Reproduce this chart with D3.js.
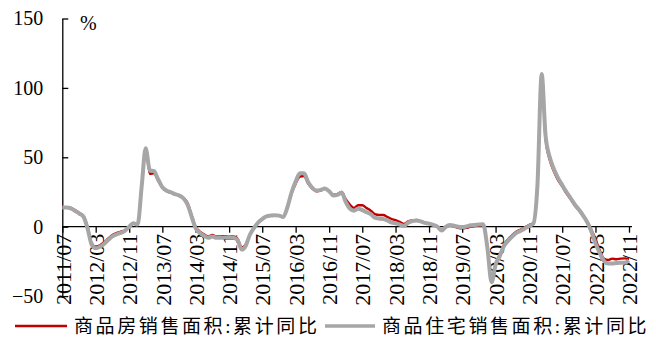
<!DOCTYPE html>
<html>
<head>
<meta charset="utf-8">
<script src="https://cdn.jsdelivr.net/npm/d3@7"></script>
<style>
  html, body { margin: 0; padding: 0; background: #fff; }
  svg { display: block; }
  .axis text { font-family: "Liberation Serif", "Times New Roman", serif; font-size: 20px; fill: #000; }
  .axis path, .axis line { stroke: #000; stroke-width: 1.3px; }
  .xaxis text { font-size: 22px; }
  .legend text { font-family: "Liberation Serif", "Noto Sans CJK SC", serif; font-size: 19px; fill: #000; }
</style>
</head>
<body>
<svg id="chart" width="656" height="339"></svg>
<script>
// Monthly series, starting 2011/07 and ending 2022/11 (cumulative YoY, %)
const startMonth = "2011/07";

const seriesNames = ["商品房销售面积:累计同比", "商品住宅销售面积:累计同比"];
const seriesColors = ["#c00000", "#a6a6a6"];

const salesAreaAll = [
  // 2011 Jul-Dec
  14, 14, 13.5, 12, 10, 8,
  // 2012
  0, -12, -14.5, -13.5, -11.5, -8.5, -6, -4.5, -3.5, -2.5, 0, 2.5,
  // 2013
  1.5, 30, 56, 38, 38.5, 33, 28, 25.5, 24.5, 23.5, 22.5, 21,
  // 2014
  17, 8, 0, -3.5, -5.5, -7, -6, -7, -7, -6.8, -7.2, -7,
  // 2015
  -8.5, -15, -13, -6, -1, 3, 5.5, 7.5, 8, 8.3, 8, 7,
  // 2016
  14, 24, 31, 36, 36.5, 31, 27.5, 25.5, 26, 27.5, 25.5, 23,
  // 2017
  23.5, 25, 20, 16, 13.5, 15.5, 15.5, 13.5, 11.5, 9, 8.4, 8.4,
  // 2018
  7, 5.5, 4.8, 3.5, 2, 3.8, 4.5, 4.8, 4, 3, 2.2, 1.3,
  // 2019
  0, -2.4, -0.5, 0.8, 0.3, -0.8, -1.2, -0.8, 0, 0.5, 1, 1.3,
  // 2020
  -15, -40, -27, -20, -13, -9, -6, -3.5, -2, -0.5, 1.2, 2.5,
  // 2021
  30, 110, 64, 48, 40, 33.5, 29, 24, 19.7, 15.3, 11.7, 7.7,
  // 2022 Jan-Nov
  3.4, -2.5, -9, -17, -23, -24, -23, -23.5, -23, -22.8, -23.3
];

const salesAreaResidential = [
  // 2011 Jul-Dec
  13.8, 13.8, 13.2, 11.5, 9.5, 7.5,
  // 2012
  -1, -13, -15.5, -14.5, -12.5, -9.5, -7, -5.5, -4.5, -3, 0, 2.5,
  // 2013
  1.5, 30, 56.5, 40.5, 40, 34, 28.5, 26, 24.8, 23.5, 22.5, 20.5,
  // 2014
  16, 7, -1, -4.5, -6.5, -8, -7, -8, -8, -7.8, -8, -8,
  // 2015
  -9.5, -16.5, -14, -6, -1, 3, 5.5, 7.5, 8, 8.3, 8, 7,
  // 2016
  14, 25, 32.5, 38.5, 38.5, 32, 28, 26, 26.5, 27.5, 25.5, 22.5,
  // 2017
  23, 24.5, 18, 13, 11.5, 13, 12, 10.5, 9, 6.5, 5.8, 5.6,
  // 2018
  4.5, 3, 2.5, 1.5, 0.5, 2.8, 4, 4.5, 3.8, 2.8, 2.2, 1.3,
  // 2019
  0, -2.8, -0.3, 1.2, 0.8, 0, -0.2, 0.2, 1, 1.3, 1.5, 1.8,
  // 2020
  -15, -40, -27.5, -21, -14, -10, -7, -4.5, -3, -1.2, 0.5, 2,
  // 2021
  30, 110, 66, 50, 41.5, 35, 30, 25, 20.5, 16, 12.2, 8,
  // 2022 Jan-Nov
  3, -4, -12, -19, -24.5, -26.5, -26.5, -26.2, -26, -26, -24.5
];

const xTickLabels = ["2011/07", "2012/03", "2012/11", "2013/07", "2014/03", "2014/11",
  "2015/07", "2016/03", "2016/11", "2017/07", "2018/03", "2018/11", "2019/07",
  "2020/03", "2020/11", "2021/07", "2022/03", "2022/11"];
const yTickValues = [-50, 0, 50, 100, 150];
const unitLabel = "%";

const parseMonth = d3.timeParse("%Y/%m");
const formatMonth = d3.timeFormat("%Y/%m");
const t0 = parseMonth(startMonth);
const months = salesAreaAll.map((_, i) => d3.timeMonth.offset(t0, i));
const series = [salesAreaAll, salesAreaResidential];

const svg = d3.select("#chart");

const x = d3.scaleTime()
  .domain([t0, months[months.length - 1]])
  .range([62.3, 629]);
const y = d3.scaleLinear()
  .domain([-50, 150])
  .range([296.1, 18.5]);

// Y axis: ticks point inward, labels on the left
const yAxis = d3.axisLeft(y)
  .tickValues(yTickValues)
  .tickSizeInner(-6)
  .tickSizeOuter(0)
  .tickPadding(19)
  .tickFormat(d3.format("d"));
svg.append("g")
  .attr("class", "axis")
  .attr("transform", `translate(${x.range()[0]},0)`)
  .call(yAxis);

// X axis runs along the zero line with vertical date labels
const xAxis = d3.axisBottom(x)
  .tickValues(xTickLabels.map(parseMonth))
  .tickSizeInner(6)
  .tickSizeOuter(0)
  .tickFormat(formatMonth);
const gx = svg.append("g")
  .attr("class", "axis xaxis")
  .attr("transform", `translate(0,${y(0)})`)
  .call(xAxis);
gx.select(".domain").attr("d", `M${x.range()[0]},0H632`);
gx.selectAll(".tick text")
  .attr("transform", "rotate(-90)")
  .attr("text-anchor", "end")
  .attr("x", -7)
  .attr("y", 0)
  .attr("dy", "0.35em");

svg.append("text")
  .attr("x", 80)
  .attr("y", 30)
  .style("font-family", "Liberation Serif, serif")
  .style("font-size", "20px")
  .text(unitLabel);

const line = d3.line()
  .x((d, i) => x(months[i]))
  .y(d => y(d))
  .curve(d3.curveMonotoneX);

// Residential line is wider and sits on top of the total line
const widths = [2.4, 4];
[0, 1].forEach(k => {
  svg.append("path")
    .datum(series[k])
    .attr("fill", "none")
    .attr("stroke", seriesColors[k])
    .attr("stroke-width", widths[k])
    .attr("stroke-linejoin", "round")
    .attr("d", line);
});

// Legend
const legend = svg.append("g").attr("class", "legend");
const legendItems = [
  { x1: 15, x2: 67, tx: 74 },
  { x1: 325, x2: 375, tx: 382 }
];
legendItems.forEach((it, k) => {
  legend.append("line")
    .attr("x1", it.x1).attr("x2", it.x2)
    .attr("y1", 326).attr("y2", 326)
    .attr("stroke", seriesColors[k])
    .attr("stroke-width", k === 0 ? 2.6 : 3.5);
  legend.append("text")
    .attr("x", it.tx)
    .attr("y", 333)
    .style("letter-spacing", "2.6px")
    .text(seriesNames[k]);
});
</script>
</body>
</html>
